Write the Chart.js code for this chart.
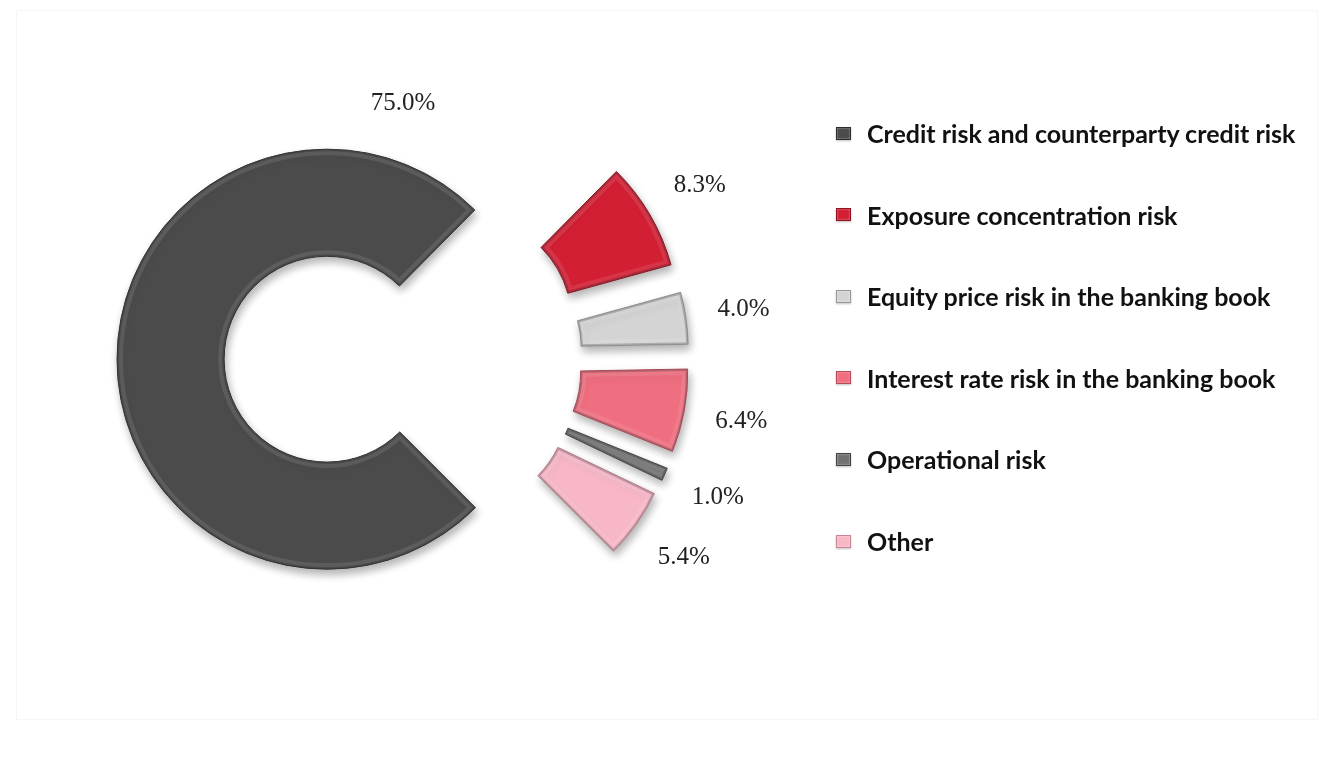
<!DOCTYPE html>
<html lang="en">
<head>
  <meta charset="UTF-8" />
  <title>Capital requirement by risk type</title>
  <script src="https://cdn.jsdelivr.net/npm/chart.js"></script>
  <style>
    body {
      margin: 0;
      background: #fff;
      width: 1327px;
      height: 769px;
      overflow: hidden;
      font-family: Lato, 'Open Sans', sans-serif;
    }

    .frame {
      position: absolute;
      left: 16px;
      top: 10px;
      width: 1300px;
      height: 708px;
      border: 1px solid #f6f6f6;
    }

    #riskChart {
      position: absolute;
      left: 0;
      top: 0;
    }

    .legend {
      position: absolute;
      left: 836px;
      top: 0;
      margin: 0;
      padding: 0;
      list-style: none;
    }

    .legend li {
      position: absolute;
      left: 0;
      height: 30px;
      display: flex;
      align-items: center;
      white-space: nowrap;
      font-size: 25px;
      font-weight: 700;
      color: #111;
    }

    .legend .swatch {
      width: 15px;
      height: 13px;
      margin-right: 16px;
      box-sizing: border-box;
      box-shadow: inset 0 0 2px rgba(255,255,255,0.6), 0 1px 2px rgba(0,0,0,0.25);
    }
  </style>
</head>
<body>
  <div class="frame"></div>
  <canvas id="riskChart" width="1327" height="769"></canvas>
  <ul class="legend" id="legend"></ul>

  <script>
    const categories = [
      'Credit risk and counterparty credit risk',
      'Exposure concentration risk',
      'Equity price risk in the banking book',
      'Interest rate risk in the banking book',
      'Operational risk',
      'Other'
    ];
    const shares = [75.0, 8.3, 4.0, 6.4, 1.0, 5.4];
    const sliceColors = ['#4b4b4b', '#d31f33', '#d4d4d4', '#ef6e7f', '#727272', '#f7b7c7'];
    const edgeColors = ['#2c2c2c', '#8c1422', '#999999', '#b14b59', '#444444', '#c48896'];

    // every slice pulled out from the centre, with a drop shadow and a soft bevel rim
    const explode = {
      id: 'explode',
      beforeDatasetDraw(chart, args, opts) {
        const ctx = chart.ctx;
        args.meta.data.forEach(arc => {
          const mid = (arc.startAngle + arc.endAngle) / 2;
          const dx = Math.cos(mid) * opts.distance;
          const dy = Math.sin(mid) * opts.distance;

          ctx.save();
          ctx.translate(dx, dy);
          ctx.shadowColor = 'rgba(0,0,0,0.3)';
          ctx.shadowBlur = 9;
          ctx.shadowOffsetX = 2;
          ctx.shadowOffsetY = 5;
          arc.draw(ctx);
          ctx.restore();

          ctx.save();
          ctx.translate(dx, dy);
          ctx.beginPath();
          ctx.arc(arc.x, arc.y, arc.outerRadius, arc.startAngle, arc.endAngle);
          ctx.arc(arc.x, arc.y, arc.innerRadius, arc.endAngle, arc.startAngle, true);
          ctx.closePath();
          ctx.clip();
          ctx.lineJoin = 'round';
          ctx.lineWidth = 12;
          ctx.strokeStyle = 'rgba(255,255,255,0.1)';
          ctx.stroke();
          ctx.lineWidth = 4;
          ctx.strokeStyle = 'rgba(0,0,0,0.2)';
          ctx.stroke();
          ctx.restore();
        });
        return false;
      }
    };

    const pctLabels = {
      id: 'pctLabels',
      afterDatasetsDraw(chart, args, opts) {
        const ctx = chart.ctx;
        const meta = chart.getDatasetMeta(0);
        const values = chart.data.datasets[0].data;
        ctx.save();
        ctx.font = opts.font;
        ctx.fillStyle = opts.color;
        ctx.textAlign = 'center';
        ctx.textBaseline = 'middle';
        meta.data.forEach((arc, i) => {
          let angle = (arc.startAngle + arc.endAngle) / 2;
          let r = arc.outerRadius + opts.distance;
          if (arc.endAngle - arc.startAngle > Math.PI) {
            // the big slice gets its label above the ring
            angle = -Math.PI / 2;
            r = arc.outerRadius + opts.topGap;
          }
          ctx.fillText(values[i].toFixed(1) + '%', arc.x + Math.cos(angle) * r, arc.y + Math.sin(angle) * r);
        });
        ctx.restore();
      }
    };

    const chart = new Chart(document.getElementById('riskChart'), {
      type: 'doughnut',
      data: {
        labels: categories,
        datasets: [{
          data: shares,
          backgroundColor: sliceColors,
          borderColor: edgeColors,
          borderWidth: 1
        }]
      },
      options: {
        responsive: false,
        animation: false,
        events: [],
        rotation: 135,
        radius: 210,
        cutout: '49%',
        layout: { padding: { right: 521, bottom: 51 } },
        plugins: {
          legend: { display: false },
          tooltip: { enabled: false },
          explode: { distance: 76 },
          pctLabels: {
            distance: 134,
            topGap: 46,
            font: '25px "Liberation Serif", serif',
            color: '#222'
          }
        }
      },
      plugins: [explode, pctLabels]
    });

    const legend = document.getElementById('legend');
    categories.forEach((name, i) => {
      const li = document.createElement('li');
      li.style.top = (133 + i * 81.6 - 15) + 'px';
      const sw = document.createElement('span');
      sw.className = 'swatch';
      sw.style.background = sliceColors[i];
      sw.style.border = '1px solid ' + edgeColors[i];
      li.appendChild(sw);
      li.appendChild(document.createTextNode(name));
      legend.appendChild(li);
    });
  </script>
</body>
</html>
